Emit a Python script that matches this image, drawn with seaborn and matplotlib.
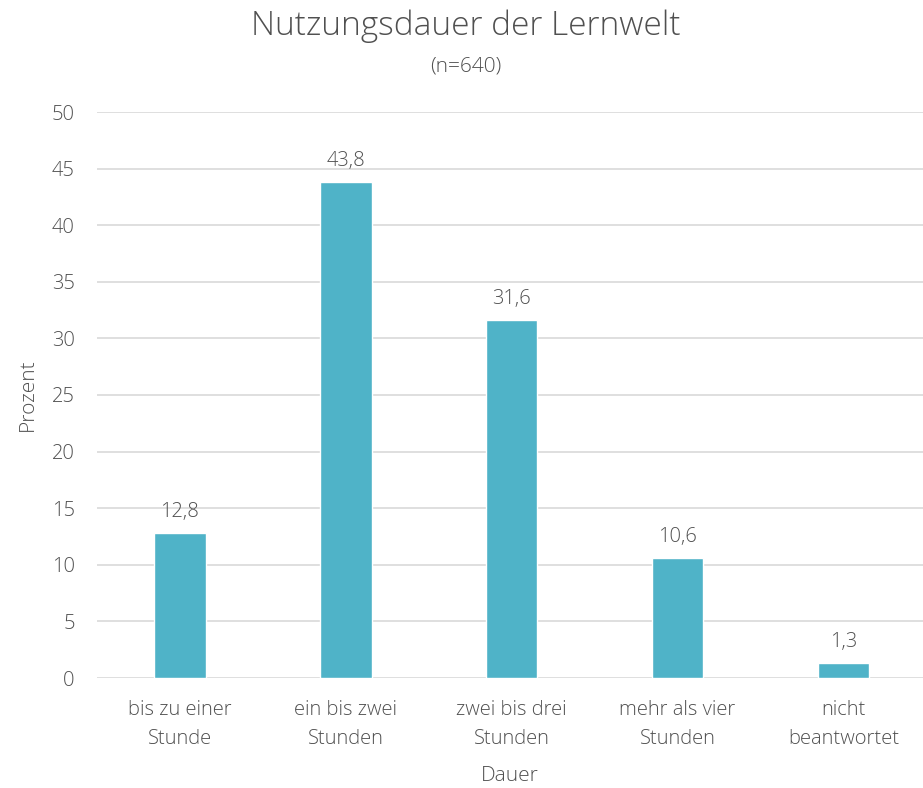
import matplotlib
matplotlib.use("Agg")
import matplotlib.pyplot as plt
import pandas as pd
import seaborn as sns

categories = ["bis zu einer\nStunde", "ein bis zwei\nStunden", "zwei bis drei\nStunden",
              "mehr als vier\nStunden", "nicht\nbeantwortet"]
values = [12.8, 43.8, 31.6, 10.6, 1.3]
y_ticks = [0, 5, 10, 15, 20, 25, 30, 35, 40, 45, 50]

bar_color = "#4FB3C8"
text_color = "#505050"
grid_color = "#D9D9D9"

sns.set_style("white")
plt.rcParams["font.family"] = ["Open Sans", "DejaVu Sans"]

df = pd.DataFrame({"Dauer": categories, "Prozent": values})

fig = plt.figure(figsize=(9.23, 7.88), dpi=100)
ax = fig.add_axes([97 / 923, 110 / 788, 826 / 923, 566 / 788])

sns.barplot(data=df, x="Dauer", y="Prozent", color=bar_color, width=0.31,
            saturation=1, ax=ax, zorder=3)

ax.set_ylim(0, 50)
ax.set_xlim(-0.5, 4.48)
ax.set_yticks(y_ticks)
ax.yaxis.grid(True, color=grid_color, linewidth=1.2, zorder=0)
for s in ax.spines.values():
    s.set_visible(False)
ax.tick_params(axis="both", length=0, labelsize=14.5, colors=text_color)
ax.tick_params(axis="x", pad=16)
ax.tick_params(axis="y", pad=16)
for lbl in ax.get_xticklabels() + ax.get_yticklabels():
    lbl.set_fontweight("light")
    lbl.set_linespacing(1.6)

for i, v in enumerate(values):
    ax.text(i, v + 1.0, f"{v:.1f}".replace(".", ","), ha="center", va="bottom",
            fontsize=14.5, color=text_color, fontweight="light")

ax.set_xlabel("Dauer", fontsize=15, color=text_color, fontweight="light", labelpad=12)
ax.set_ylabel("Prozent", fontsize=15, color=text_color, fontweight="light", labelpad=10)

fig.text(0.505, 0.967, "Nutzungsdauer der Lernwelt", ha="center", va="center",
         fontsize=24, color=text_color, fontweight="light")
fig.text(0.505, 0.915, "(n=640)", ha="center", va="center",
         fontsize=15, color=text_color, fontweight="light")

fig.savefig("out.png", dpi=100)
